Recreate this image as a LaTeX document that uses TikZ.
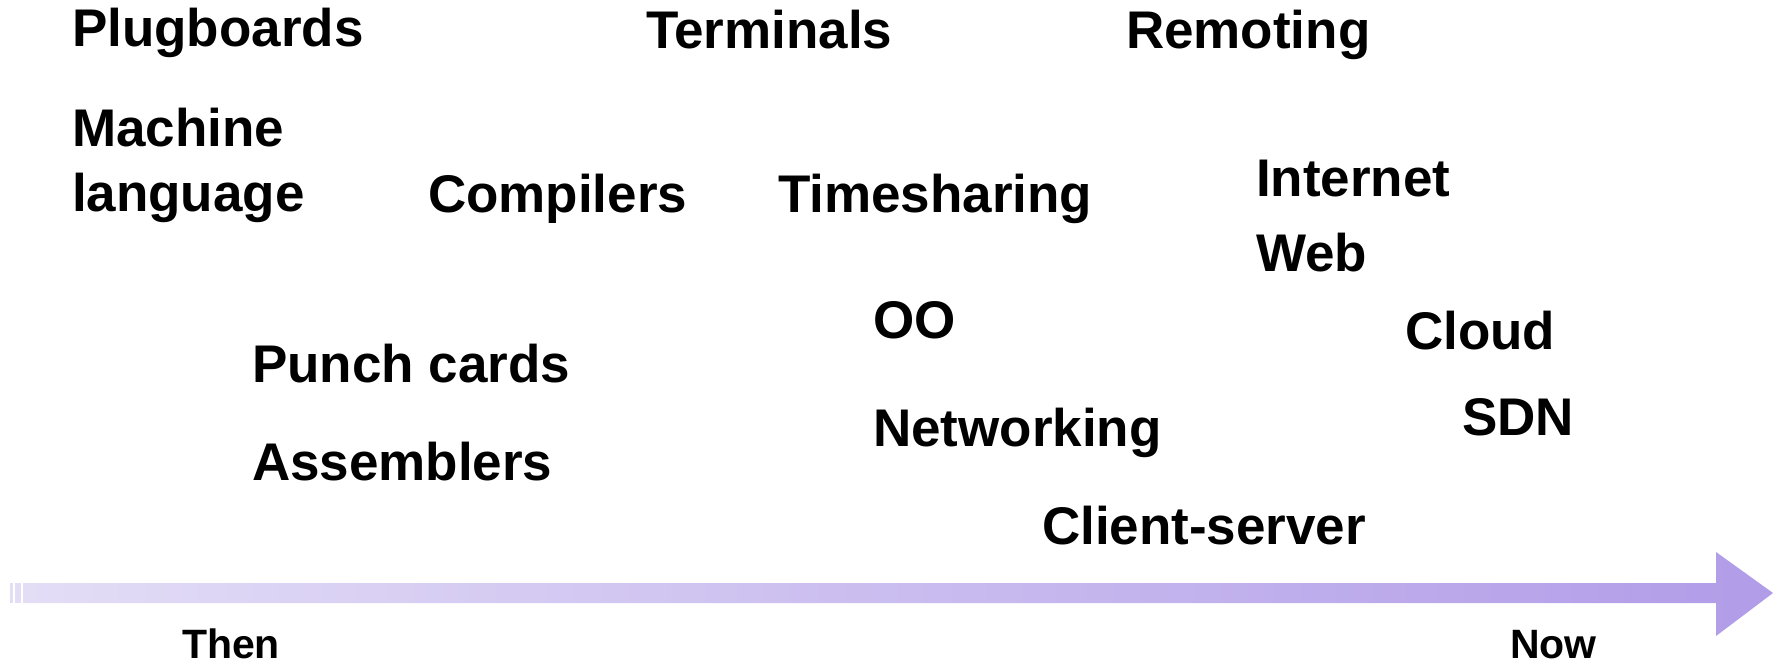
\documentclass[tikz,border=0pt]{standalone}
\usepackage{fontspec}
\setmainfont{Liberation Sans}
\begin{document}
\begin{tikzpicture}[x=1pt,y=-1pt,
  era/.style={anchor=base west, inner sep=0pt, outer sep=0pt,
    font=\fontsize{53}{65}\selectfont\bfseries},
  pole/.style={anchor=base west, inner sep=0pt, outer sep=0pt,
    font=\fontsize{41}{49}\selectfont\bfseries}]
\definecolor{timeA}{RGB}{227,221,246}
\definecolor{timeB}{RGB}{177,156,232}
\useasboundingbox (0,0) rectangle (1783,663);

% labels of the eras, placed along the time axis
\node[era] (plug)   at (72,47)   {Plugboards};
\node[era] (term)   at (646,49)  {Terminals};
\node[era] (remote) at (1126,49) {Remoting};
\node[era] (mach)   at (72,147)  {\begin{tabular}[t]{@{}l@{}}Machine\\language\end{tabular}};
\node[era] (comp)   at (428,213) {Compilers};
\node[era] (tshare) at (778,213) {Timesharing};
\node[era] (inet)   at (1256,197) {Internet};
\node[era] (web)    at (1256,272) {Web};
\node[era] (oo)     at (873,338) {OO};
\node[era] (cloud)  at (1405,349) {Cloud};
\node[era] (punch)  at (252,382) {Punch cards};
\node[era] (asm)    at (252,480) {Assemblers};
\node[era] (net)    at (873,446) {Networking};
\node[era] (sdn)    at (1462,435) {SDN};
\node[era] (cs)     at (1042,544) {Client-server};

% time axis
\fill[timeA] (10,583) rectangle (13,603);
\fill[timeA] (15,583) rectangle (21,603);
\shade[left color=timeA, right color=timeB]
  (23,583) -- (1716,583) -- (1716,552) -- (1773,593) -- (1716,636)
  -- (1716,603) -- (23,603) -- cycle;

\node[pole] (then) at (182,658) {Then};
\node[pole] (now)  at (1510,658) {Now};
\end{tikzpicture}
\end{document}
